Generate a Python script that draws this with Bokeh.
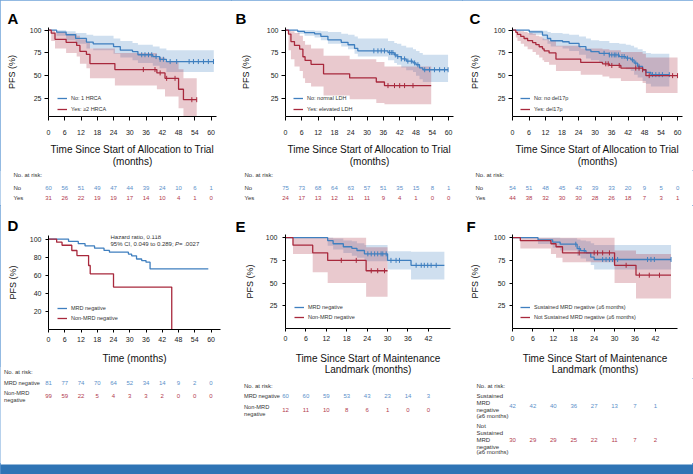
import numpy as np
from bokeh.plotting import figure
from bokeh.models import Range1d, Legend, LegendItem, FixedTicker
from bokeh.layouts import row, column
from bokeh.embed import file_html
from bokeh.resources import INLINE
from bokeh.core.properties import value

BLUE = "#3F7FBF"
RED = "#A8283C"
BLUE_TXT = "#5B8FC9"
RED_TXT = "#B23A4E"
BAND = "#2F74B5"
SANS = "Liberation Sans"

ticks_60 = [0, 6, 12, 18, 24, 30, 36, 42, 48, 54, 60]
ticks_42 = [0, 6, 12, 18, 24, 30, 36, 42]
yticks_25 = [25, 50, 75, 100]
yticks_20 = [20, 40, 60, 80, 100]

# ---------------- Panel A ----------------
a_no_label = "No: 1 HRCA"
a_no_t = [0, 3, 6.5, 10, 14, 16.5, 24, 26.5, 31, 33, 38.5, 41, 43.5, 61]
a_no_s = [100, 98, 95, 91, 87, 85, 82, 78, 76.5, 73, 71, 68, 65.5, 65.5]
a_no_lo = [100, 94, 89, 85, 80, 78, 74, 70, 67, 64, 61, 58, 54, 54]
a_no_hi = [100, 100, 99, 97, 95, 94, 91, 88, 86, 84, 82, 80, 78, 78]
a_no_cens = [34.4, 35.6, 36.9, 38.1, 39.7, 41.2, 42.4, 44.9, 47.3, 51.9, 53.5, 55.3, 57.2, 59, 60.9]
a_yes_label = "Yes: ≥2 HRCA"
a_yes_t = [0, 1, 2.4, 6.5, 10.4, 11.6, 14, 15.3, 24.5, 40, 43, 48, 49.8, 54.7]
a_yes_s = [100, 96.7, 90, 86.7, 83.3, 76.7, 73.3, 63.3, 56.7, 53, 47, 35, 23.5, 23.5]
a_yes_lo = [100, 88, 80, 75, 71, 63, 58, 47, 39, 35, 27, 14, 5, 5]
a_yes_hi = [100, 100, 98, 96, 94, 90, 87, 80, 75, 70, 66, 57, 47, 47]
a_yes_cens = [35, 39.3, 41.2, 43.6, 46.7, 52.9, 54.7]
a_risk_no = [60, 56, 51, 49, 47, 44, 39, 24, 10, 6, 1]
a_risk_yes = [31, 26, 22, 19, 19, 17, 14, 10, 4, 1, 0]

# ---------------- Panel B ----------------
b_no_label = "No: normal LDH"
b_no_t = [0, 4.5, 7, 10.7, 13, 15.6, 20.5, 23, 25.4, 26.6, 37.7, 40, 41, 42.6, 44.4, 46.9, 48, 49.3, 50.5, 59.8]
b_no_s = [100, 98.7, 97.3, 96, 93.3, 89.3, 86.7, 84, 80, 77.3, 75.4, 72.8, 71, 68.5, 66, 64, 62, 58.5, 56.5, 56.5]
b_no_lo = [100, 96, 94, 92, 89, 85, 82, 79, 74, 71, 67, 64, 62, 59, 56, 54, 50, 46, 43, 42]
b_no_hi = [100, 100, 100, 99.5, 99, 98, 96, 95, 93, 91, 88, 86, 85, 83, 81, 79, 77, 75, 73, 73]
b_no_cens = [32.5, 34, 35.2, 36.4, 38.3, 38.9, 39.5, 40.4, 41.3, 42.6, 43.8, 45, 46.3, 47.5, 48.7,
             51.2, 53, 54.8, 56.7, 58.5, 59.8]
b_yes_label = "Yes: elevated LDH"
b_yes_t = [0, 1.1, 2, 3.3, 5.2, 6.4, 7.2, 9.4, 14, 23.6, 33.4, 36.4, 53.6]
b_yes_s = [100, 95.8, 87.5, 83.3, 79.2, 70.8, 66.7, 62.5, 52, 47.5, 43, 39, 39]
b_yes_lo = [100, 78, 68, 60, 55, 47, 42, 38, 28, 24, 20, 18.5, 18.5]
b_yes_hi = [100, 100, 99, 97, 94, 88, 84, 80, 72, 68, 65, 60, 58]
b_yes_cens = [37.7, 40.1, 42, 43.8, 46.9]
b_risk_no = [75, 73, 68, 64, 63, 57, 51, 35, 15, 8, 1]
b_risk_yes = [24, 17, 13, 12, 11, 11, 9, 4, 1, 0, 0]

# ---------------- Panel C ----------------
c_no_label = "No: no del17p"
c_no_t = [0, 6.1, 10.9, 12.7, 13.9, 18.2, 20.6, 24.2, 26.7, 28.5, 31.5, 35.2, 38.8, 41.2, 43, 44.2,
          45.5, 47.3, 48.5, 50.3, 57]
c_no_s = [100, 98.2, 94.6, 90.9, 88.4, 87.3, 85.5, 81.9, 78.3, 76.4, 74.6, 72.8, 71, 69.2, 67.4, 63.8,
          60.1, 56.5, 53.6, 51.1, 51.1]
c_no_lo = [100, 95, 89, 85, 82, 80, 77, 73, 69, 67, 64, 62, 59, 57, 55, 51, 48, 44, 41, 38, 38]
c_no_hi = [100, 100, 99.5, 98, 97, 96, 95, 93, 91, 89, 88, 86, 85, 84, 83, 81, 79, 77, 75, 74, 74]
c_no_cens = [33.3, 35.2, 36.1, 37, 37.6, 38.5, 39.8, 40.6, 41.8, 43.6, 44.8, 46, 50.9, 52.1, 53.3, 54.5, 57]
c_yes_label = "Yes: del17p"
c_yes_t = [0, 1.2, 1.8, 3, 4.2, 5.5, 7.3, 8.5, 9.7, 10.9, 11.5, 13.3, 15.8, 24.8, 32.7, 35.2, 39.4,
           47.3, 48.5, 60]
c_yes_s = [100, 97.7, 95.5, 93.2, 90.9, 88.6, 86.4, 84.1, 81.8, 79.5, 77.3, 75, 68.1, 64.5, 63, 61.2,
           58.3, 56.5, 50, 50]
c_yes_lo = [100, 92, 88, 85, 82, 79, 76, 73, 70, 67, 65, 62, 55, 51, 49, 47, 44, 42, 31, 31]
c_yes_hi = [100, 100, 99.5, 99, 98, 97, 96, 94, 93, 91, 90, 88, 83, 80, 79, 78, 76, 74, 70, 70]
c_yes_cens = [33.9, 34.8, 36.1, 38.8, 44.8, 46, 47.3, 49.7, 58.2, 60]
c_risk_no = [54, 51, 48, 45, 43, 39, 33, 20, 9, 5, 0]
c_risk_yes = [44, 38, 32, 30, 30, 28, 26, 18, 7, 3, 1]

# ---------------- Panel D ----------------
d_mrd_label = "MRD negative"
d_mrd_t = [0, 7.4, 11, 13.5, 17, 20.5, 22.5, 29.5, 30.7, 32.5, 34.4, 36, 37.5, 59]
d_mrd_s = [100, 97.5, 95, 92.5, 90, 87.5, 85.5, 83.5, 81.5, 78, 76.3, 74.5, 67, 67]
d_non_label = "Non-MRD negative"
d_non_t = [0, 3, 5, 8.6, 10.5, 14.8, 15.4, 24, 45.5]
d_non_s = [100, 96.6, 93.2, 87.4, 81.8, 70.8, 61.6, 46.9, 0]
d_risk_mrd = [81, 77, 74, 70, 64, 52, 34, 14, 9, 2, 0]
d_risk_non = [99, 59, 22, 5, 4, 3, 3, 2, 0, 0, 0]
d_hr_line1 = "Hazard ratio, 0.118"
d_hr_line2 = ["95% CI, 0.049 to 0.289; ", "P", " = .0027"]

# ---------------- Panel E ----------------
e_mrd_label = "MRD negative"
e_mrd_t = [0, 12.4, 14, 17, 19.5, 21, 23.2, 30, 36.9, 46.7]
e_mrd_s = [100, 96.7, 93.3, 90, 88.3, 85.9, 82.2, 75, 69.6, 69.6]
e_mrd_lo = [100, 91, 87, 83, 80, 78, 74, 65, 54, 54]
e_mrd_hi = [100, 100, 99, 97, 96, 94, 92, 85, 84.5, 84.5]
e_mrd_cens = [24.2, 25.2, 26.2, 27.1, 28.1, 28.6, 29.6, 31, 32.5, 33.5, 38.4, 39.9, 40.8, 41.8, 42.8, 44.3]
e_non_label = "Non-MRD negative"
e_non_t = [0, 2.2, 8, 12.4, 23.7, 30]
e_non_s = [100, 91.7, 83.3, 75, 63.6, 63.6]
e_non_lo = [100, 82, 62, 50, 35, 35]
e_non_hi = [100, 100, 100, 100, 89.5, 89.5]
e_non_cens = [16.4, 20.8, 25.2, 27.1, 29.1]
e_risk_mrd = [60, 60, 59, 53, 43, 23, 14, 3]
e_risk_non = [12, 11, 10, 8, 6, 1, 0, 0]

# ---------------- Panel F ----------------
f_sus_label = "Sustained MRD negative (≥6 months)"
f_sus_t = [0, 7.5, 11.8, 14, 19, 20, 21.6, 23, 24, 46.6]
f_sus_s = [100, 97.6, 95.2, 92.8, 88, 85.7, 83.3, 78.6, 76, 76]
f_sus_lo = [100, 93, 89, 86, 80, 77, 74, 70, 65, 64]
f_sus_hi = [100, 100, 100, 99.5, 98, 97, 96, 94, 92, 92]
f_sus_cens = [18.6, 19.6, 21.1, 26.5, 27.5, 28.5, 29.4, 30.9, 39.7, 40.7, 41.7, 46.6]
f_not_label = "Not Sustained MRD negative (≥6 months)"
f_not_t = [0, 2.3, 11.3, 12.8, 14.7, 30, 36.3, 46.6]
f_not_s = [100, 96.7, 93.3, 90, 83.3, 69.6, 58.7, 58.7]
f_not_lo = [100, 88, 82, 78, 73, 50, 33, 33]
f_not_hi = [100, 100, 100, 100, 100, 86, 82, 82]
f_not_cens = [19.6, 24, 25, 26.5, 28.5, 33.4, 37.3, 40.2, 43.2]
f_risk_sus = [42, 42, 40, 36, 27, 13, 7, 1]
f_risk_not = [30, 29, 29, 25, 22, 11, 7, 2]
f_lab_sus = ["Sustained", "MRD", "negative", "(≥6 months)"]
f_lab_not = ["Not", "Sustained", "MRD", "negative", "(≥6 months)"]

risk_header = "No. at risk:"
x_label_alloc = "Time Since Start of Allocation to Trial\n(months)"
x_label_maint = "Time Since Start of Maintenance\nLandmark (months)"
x_label_time = "Time (months)"
y_label = "PFS (%)"


# ---------------- helpers ----------------
def step_xy(t, v):
    t = np.asarray(t, float)
    v = np.asarray(v, float)
    return np.repeat(t, 2)[1:], np.repeat(v, 2)[:-1]


def surv_at(t, s, c):
    t = np.asarray(t, float)
    s = np.asarray(s, float)
    idx = np.searchsorted(t, np.asarray(c, float), side="right") - 1
    return s[idx]


def no_align(p):
    if "frame_align" in p.properties():
        p.frame_align = False


def km_figure(W, H, fl, ft, fw, fh, xend, yr, xticks, yticks, xlabel, g, letter):
    p = figure(width=W, height=H, x_range=Range1d(0, xend), y_range=Range1d(*yr),
               output_backend="svg", toolbar_location=None,
               min_border_left=fl, min_border_top=ft,
               min_border_right=W - fl - fw, min_border_bottom=H - ft - fh)
    no_align(p)
    p.grid.visible = False
    p.outline_line_color = None
    p.xaxis.ticker = FixedTicker(ticks=xticks)
    p.yaxis.ticker = FixedTicker(ticks=yticks)
    for ax in (p.xaxis[0], p.yaxis[0]):
        ax.axis_line_color = "black"
        ax.axis_line_width = 1
        ax.major_tick_line_color = "black"
        ax.major_tick_in = 0
        ax.major_tick_out = g["tick"]
        ax.minor_tick_line_color = None
        ax.major_label_text_font = SANS
        ax.major_label_text_font_size = "7px"
        ax.major_label_text_color = "#222222"
        ax.axis_label_text_font = SANS
        ax.axis_label_text_font_style = "normal"
        ax.axis_label_text_color = "#111111"
    p.xaxis.axis_label = xlabel
    p.xaxis.axis_label_text_font_size = "10px"
    p.xaxis.axis_label_text_line_height = g["lh"]
    p.xaxis.major_label_standoff = g["xls"]
    p.xaxis.axis_label_standoff = g["xas"]
    p.yaxis.axis_label = y_label
    p.yaxis.axis_label_text_font_size = "9px"
    p.yaxis.major_label_standoff = g["yls"]
    p.yaxis.axis_label_standoff = g["yas"]
    p.title.text = letter
    p.title.align = "left"
    p.title.offset = g["lx"] - fl
    p.title.standoff = g["lst"]
    p.title.vertical_align = "bottom"
    p.title.text_font = SANS
    p.title.text_font_size = "15px"
    p.title.text_font_style = "bold"
    p.title.text_color = "black"
    return p


def draw_bands(p, t, lo, hi, color):
    bx, blo = step_xy(t, lo)
    _, bhi = step_xy(t, hi)
    p.varea(x=bx, y1=blo, y2=bhi, fill_color=color, fill_alpha=0.25)


def draw_curve(p, t, s, cens, color):
    r = p.step(x=t, y=s, mode="after", line_color=color, line_width=1.3)
    if cens:
        p.scatter(x=cens, y=surv_at(t, s, cens), marker="dash", angle=np.pi / 2, size=5,
                  line_color=color, line_width=1)
    return r


def add_legend(p, items, loc, spacing):
    leg = Legend(items=[LegendItem(label=l, renderers=[r]) for l, r in items],
                 location=loc, orientation="vertical", padding=0, margin=0, spacing=spacing,
                 glyph_width=10, glyph_height=6, label_height=6, label_standoff=4,
                 label_text_font=SANS, label_text_font_size="5.5px", label_text_color="#333333",
                 background_fill_alpha=0, border_line_alpha=0)
    p.add_layout(leg)


def table_figure(W, H, fl, scale, ticks, rows, labels, label_x, header_y, label_size="6px"):
    # frame spans the whole table strip; x uses the same months-to-pixels scale as the plot above
    p = figure(width=W, height=H, x_range=Range1d(-fl / scale, (W - fl) / scale),
               y_range=Range1d(H, 0), output_backend="svg", toolbar_location=None,
               x_axis_location=None, y_axis_location=None,
               min_border_left=0, min_border_right=0, min_border_top=0, min_border_bottom=0)
    no_align(p)
    p.grid.visible = False
    p.outline_line_color = None
    for vals, ypx, color in rows:
        p.text(x=ticks[:len(vals)], y=[ypx] * len(vals), text=[str(v) for v in vals],
               text_align="center", text_baseline="middle", text_font=value(SANS),
               text_font_size="6px", text_color=color)
    lx = (label_x - fl) / scale
    p.text(x=[lx], y=[header_y], text=[risk_header], text_align="left", text_baseline="middle",
           text_font=value(SANS), text_font_size="6px", text_color="#333333")
    p.text(x=[lx] * len(labels), y=[l[1] for l in labels], text=[l[0] for l in labels],
           text_align="left", text_baseline="middle", text_font=value(SANS),
           text_font_size=label_size, text_color="#333333")
    return p


# ---------------- geometry (pixels) ----------------
COL_W = 231
TOP_H, TOP_FT, TOP_FH = 170, 27, 90
TOP_TAB_H = 35
D_H, D_FT, D_FH = 161, 30, 94
E_H, E_FT, E_FH = 173, 29, 95
BAND_H = 11
D_TAB_H = 474 - 205 - BAND_H - D_H
E_TAB_H = 474 - 205 - BAND_H - E_H

g = {"A": dict(tick=4, xls=9, xas=6, yls=3, yas=10, lh=1.15, lx=7, lst=2),
     "B": dict(tick=4, xls=9, xas=6, yls=3, yas=13, lh=1.15, lx=4, lst=2),
     "C": dict(tick=4, xls=9, xas=6, yls=3, yas=11, lh=1.15, lx=7, lst=2),
     "D": dict(tick=3, xls=4, xas=8, yls=4, yas=9, lh=1.1, lx=7, lst=4),
     "E": dict(tick=3, xls=4, xas=9, yls=5, yas=8, lh=1.08, lx=4, lst=0),
     "F": dict(tick=3, xls=4, xas=9, yls=4, yas=11, lh=1.08, lx=4, lst=0)}

panels_top = []
top_specs = [
    ("A", 48, 168, 62.0, a_no_label, a_no_t, a_no_s, a_no_lo, a_no_hi, a_no_cens,
     a_yes_label, a_yes_t, a_yes_s, a_yes_lo, a_yes_hi, a_yes_cens, a_risk_no, a_risk_yes, 9, 13),
    ("B", 54, 168, 61.8, b_no_label, b_no_t, b_no_s, b_no_lo, b_no_hi, b_no_cens,
     b_yes_label, b_yes_t, b_yes_s, b_yes_lo, b_yes_hi, b_yes_cens, b_risk_no, b_risk_yes, 8, 13),
    ("C", 50, 170, 61.8, c_no_label, c_no_t, c_no_s, c_no_lo, c_no_hi, c_no_cens,
     c_yes_label, c_yes_t, c_yes_s, c_yes_lo, c_yes_hi, c_yes_cens, c_risk_no, c_risk_yes, 8, 13),
]
for (L, fl, fw, xend, l1, t1, s1, lo1, hi1, c1, l2, t2, s2, lo2, hi2, c2, rk1, rk2,
     legx, lab_x) in top_specs:
    p = km_figure(COL_W, TOP_H, fl, TOP_FT, fw, TOP_FH, xend, (5, 103), ticks_60, yticks_25,
                  x_label_alloc, g[L], L)
    draw_bands(p, t1, lo1, hi1, BLUE)
    draw_bands(p, t2, lo2, hi2, RED)
    r1 = draw_curve(p, t1, s1, c1, BLUE)
    r2 = draw_curve(p, t2, s2, c2, RED)
    add_legend(p, [(l1, r1), (l2, r2)], (legx, 4), 5)
    tab = table_figure(COL_W, TOP_TAB_H, fl, fw / xend, ticks_60,
                       [(rk1, 17.7, BLUE_TXT), (rk2, 27.7, RED_TXT)],
                       [("No", 17.7), ("Yes", 27.7)], lab_x, 4.3)
    panels_top.append(column(p, tab))

# Panel D
pD = km_figure(COL_W, D_H, 48, D_FT, 172, D_FH, 63.5, (0, 104), ticks_60, yticks_20,
               x_label_time, g["D"], "D")
rD1 = draw_curve(pD, d_mrd_t, d_mrd_s, None, BLUE)
rD2 = draw_curve(pD, d_non_t, d_non_s, None, RED)
add_legend(pD, [(d_mrd_label, rD1), (d_non_label, rD2)], (9, 8), 4)
hr_x = 22.9
txt_kw = dict(text_font=value(SANS), text_font_size="6px", text_baseline="middle",
              text_align="left", text_color="#333333")
pD.text(x=[hr_x], y=[102.8], text=[d_hr_line1], **txt_kw)
pD.text(x=[hr_x], y=[95.0], text=[d_hr_line2[0]], **txt_kw)
pD.text(x=[hr_x], y=[95.0], text=[d_hr_line2[1]], x_offset=64.5, text_font_style="italic", **txt_kw)
pD.text(x=[hr_x], y=[95.0], text=[d_hr_line2[2]], x_offset=68.5, **txt_kw)
tD = table_figure(COL_W, D_TAB_H, 48, 172 / 63.5, ticks_60,
                  [(d_risk_mrd, 16.7, BLUE_TXT), (d_risk_non, 29.7, RED_TXT)],
                  [("MRD negative", 16.7), ("Non-MRD", 26.7), ("negative", 33)], 3.5, 5.7,
                  label_size="5.7px")

# Panel E
pE = km_figure(COL_W, E_H, 54, E_FT, 165, E_FH, 48.5, (0, 103.5), ticks_42, yticks_25,
               x_label_maint, g["E"], "E")
draw_bands(pE, e_mrd_t, e_mrd_lo, e_mrd_hi, BLUE)
draw_bands(pE, e_non_t, e_non_lo, e_non_hi, RED)
rE1 = draw_curve(pE, e_mrd_t, e_mrd_s, e_mrd_cens, BLUE)
rE2 = draw_curve(pE, e_non_t, e_non_s, e_non_cens, RED)
add_legend(pE, [(e_mrd_label, rE1), (e_non_label, rE2)], (9, 8), 4)
tE = table_figure(COL_W, E_TAB_H, 54, 165 / 48.5, ticks_42,
                  [(e_risk_mrd, 17.7, BLUE_TXT), (e_risk_non, 31, RED_TXT)],
                  [("MRD negative", 17.7), ("Non-MRD", 28), ("negative", 35.3)], 12.5, 7,
                  label_size="5.7px")

# Panel F
pF = km_figure(COL_W, E_H, 50, E_FT, 165, E_FH, 48.5, (0, 103.5), ticks_42, yticks_25,
               x_label_maint, g["F"], "F")
draw_bands(pF, f_sus_t, f_sus_lo, f_sus_hi, BLUE)
draw_bands(pF, f_not_t, f_not_lo, f_not_hi, RED)
rF1 = draw_curve(pF, f_sus_t, f_sus_s, f_sus_cens, BLUE)
rF2 = draw_curve(pF, f_not_t, f_not_s, f_not_cens, RED)
add_legend(pF, [(f_sus_label, rF1), (f_not_label, rF2)], (8, 8), 4)
sus_y = [17.7, 24.7, 31.3, 37]
not_y = [47, 54.3, 61.3, 68, 73.7]
tF = table_figure(COL_W, E_TAB_H, 50, 165 / 48.5, ticks_42,
                  [(f_risk_sus, 27, BLUE_TXT), (f_risk_not, 61.3, RED_TXT)],
                  list(zip(f_lab_sus, sus_y)) + list(zip(f_lab_not, not_y)), 14, 7)

band = figure(width=693, height=BAND_H, output_backend="svg", toolbar_location=None,
              x_axis_location=None, y_axis_location=None,
              min_border_left=0, min_border_right=0, min_border_top=0, min_border_bottom=0,
              background_fill_color=BAND, border_fill_color=BAND, outline_line_color=None)
no_align(band)
band.grid.visible = False

layout = column(row(*panels_top),
                row(column(pD, tD), column(pE, tE), column(pF, tF)),
                band,
                styles={"outline": "1px solid #6FA3D8", "outline-offset": "-1px"})

open("out.html", "w").write(file_html(layout, INLINE))
